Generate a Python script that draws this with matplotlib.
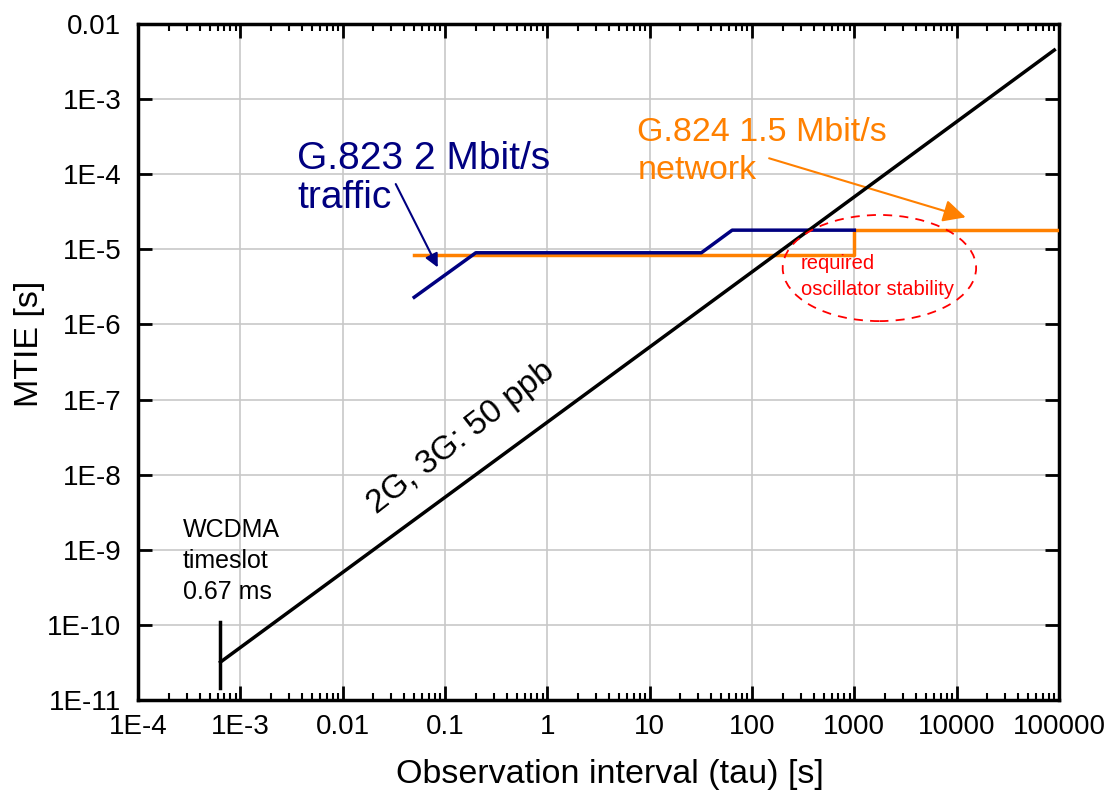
import numpy as np
import matplotlib.pyplot as plt
from matplotlib.patches import Ellipse

plt.rcParams['font.family'] = ['Liberation Sans', 'DejaVu Sans']

# 2G/3G frequency accuracy line, 50 ppb
ppb_tau = [6.4e-4, 9e4]
ppb_mtie = [50e-9 * t for t in ppb_tau]

# WCDMA timeslot marker
wcdma_tau = [6.4e-4, 6.4e-4]
wcdma_mtie = [1.45e-11, 1.1e-10]

# G.823 2 Mbit/s traffic mask
g823_tau = [0.05, 0.2, 32, 64, 1000]
g823_mtie = [2.3e-6, 9e-6, 9e-6, 18e-6, 18e-6]

# G.824 1.5 Mbit/s network mask
g824_tau = [0.05, 1000, 1000, 1e5]
g824_mtie = [8.4e-6, 8.4e-6, 18e-6, 18e-6]

xticks = [1e-4, 1e-3, 0.01, 0.1, 1, 10, 100, 1000, 10000, 100000]
xlabels = ['1E-4', '1E-3', '0.01', '0.1', '1', '10', '100', '1000', '10000', '100000']
yticks = [1e-11, 1e-10, 1e-9, 1e-8, 1e-7, 1e-6, 1e-5, 1e-4, 1e-3, 1e-2]
ylabels = ['1E-11', '1E-10', '1E-9', '1E-8', '1E-7', '1E-6', '1E-5', '1E-4', '1E-3', '0.01']

navy = '#000080'
orange = '#ff8000'

fig = plt.figure(figsize=(11.15, 7.93), dpi=100)
ax = fig.add_axes([138 / 1115, 1 - 700 / 793, 921 / 1115, 676 / 793])
ax.set_xscale('log')
ax.set_yscale('log')
ax.set_xlim(1e-4, 1e5)
ax.set_ylim(1e-11, 1e-2)

ax.grid(True, which='major', color='#c8c8c8', linewidth=1.2)
ax.set_axisbelow(True)

ax.plot(g824_tau, g824_mtie, color=orange, lw=2.5, zorder=3)
ax.plot(g823_tau, g823_mtie, color=navy, lw=2.5, zorder=4)
ax.plot(ppb_tau, ppb_mtie, color='black', lw=2.5, zorder=5)
ax.plot(wcdma_tau, wcdma_mtie, color='black', lw=2.5, zorder=5)

ax.set_xticks(xticks)
ax.set_xticklabels(xlabels)
ax.set_yticks(yticks)
ax.set_yticklabels(ylabels)
ax.tick_params(which='major', direction='in', length=10, width=2, top=True, right=True,
               labelsize=20)
ax.tick_params(axis='x', which='major', pad=10)
ax.tick_params(axis='y', which='major', pad=12)
ax.tick_params(which='minor', direction='in', length=5, width=1.5, top=True, right=True)
for s in ax.spines.values():
    s.set_linewidth(2.5)

ax.set_xlabel('Observation interval (tau) [s]', fontsize=24.5, va='top')
ax.xaxis.set_label_coords(0.512, -0.087)
ax.set_ylabel('MTIE [s]', fontsize=24.5)
ax.yaxis.set_label_coords(-0.101, 0.527)

ax.text(2.76e-4, 2.65e-9, 'WCDMA\ntimeslot\n0.67 ms', fontsize=18, va='top', ha='left',
        linespacing=1.38)
ax.text(0.144, 3.1e-8, '2G, 3G: 50 ppb', fontsize=24, rotation=38, ha='center',
        va='center', rotation_mode='anchor')

# G.823 label and arrow
ax.text(3.6e-3, 8.8e-5, 'G.823 2 Mbit/s\ntraffic', fontsize=28, color=navy, ha='left',
        va='center', linespacing=1.12)
ax.annotate('', xy=(0.085, 5.75e-6), xytext=(0.033, 7.4e-5),
            arrowprops=dict(arrowstyle='-|>', color=navy, lw=1.5, shrinkA=0, shrinkB=0,
                            mutation_scale=20))

# G.824 label and arrow
ax.text(7.6, 2.0e-4, 'G.824 1.5 Mbit/s\nnetwork', fontsize=24.5, color=orange, ha='left',
        va='center', linespacing=1.32)
ax.annotate('', xy=(12240, 2.67e-5), xytext=(147, 1.63e-4),
            arrowprops=dict(arrowstyle='-|>', color=orange, lw=1.5, shrinkA=0, shrinkB=0,
                            mutation_scale=34))

ax.add_patch(Ellipse((0.805, 0.639), 0.21, 0.157, transform=ax.transAxes, fill=False,
                     ec='red', lw=1.3, ls=(0, (5, 4)), zorder=6))
ax.text(0.72, 0.645, 'required', transform=ax.transAxes, color='red', fontsize=14.5,
        ha='left', va='center')
ax.text(0.72, 0.607, 'oscillator stability', transform=ax.transAxes, color='red',
        fontsize=14.5, ha='left', va='center')

fig.savefig('out.png', dpi=100)
